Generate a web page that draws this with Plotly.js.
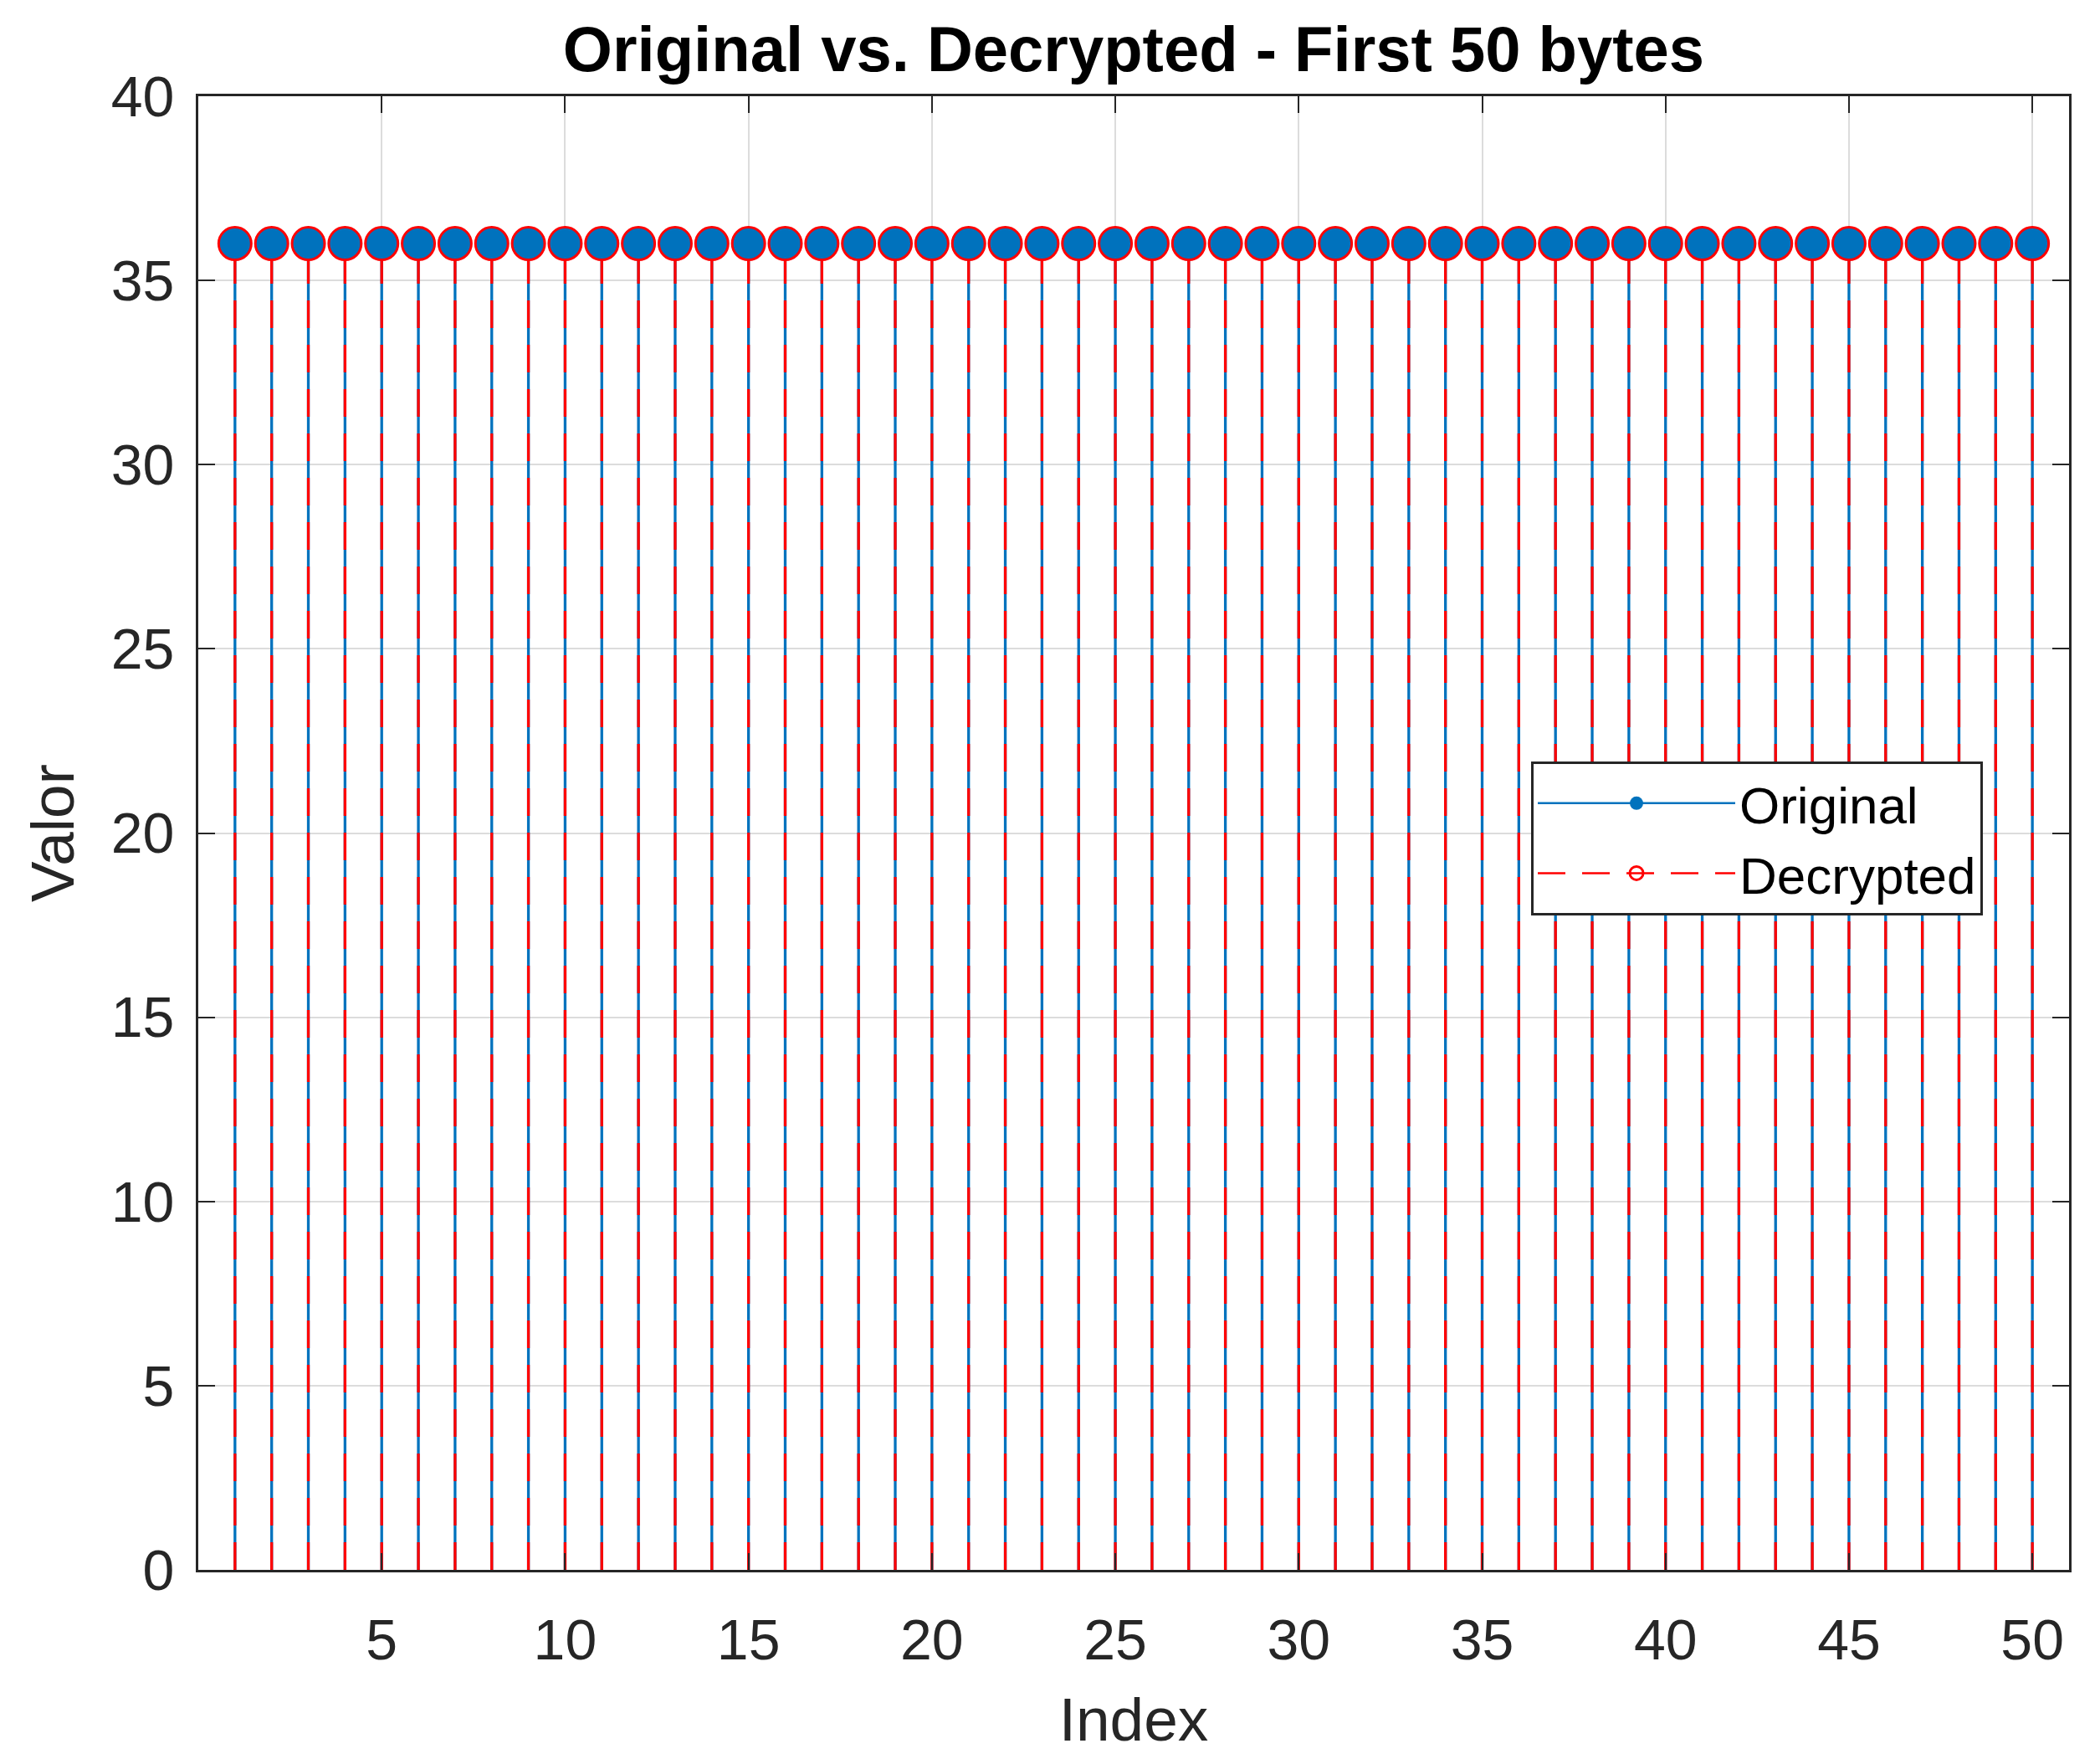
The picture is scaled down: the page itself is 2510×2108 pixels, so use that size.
<!DOCTYPE html>
<html>
<head>
<meta charset="utf-8">
<script src="https://cdn.plot.ly/plotly-3.0.1.min.js"></script>
<style>
  html, body { margin: 0; padding: 0; background: #fff; }
  #chart { width: 2510px; height: 2108px; }
</style>
</head>
<body>
<div id="chart"></div>
<script>
// Índices de los primeros 50 bytes
const indices = [1, 2, 3, 4, 5, 6, 7, 8, 9, 10,
  11, 12, 13, 14, 15, 16, 17, 18, 19, 20,
  21, 22, 23, 24, 25, 26, 27, 28, 29, 30,
  31, 32, 33, 34, 35, 36, 37, 38, 39, 40,
  41, 42, 43, 44, 45, 46, 47, 48, 49, 50];

// Valores originales y descifrados (todos iguales en la imagen)
const original = [36, 36, 36, 36, 36, 36, 36, 36, 36, 36,
  36, 36, 36, 36, 36, 36, 36, 36, 36, 36,
  36, 36, 36, 36, 36, 36, 36, 36, 36, 36,
  36, 36, 36, 36, 36, 36, 36, 36, 36, 36,
  36, 36, 36, 36, 36, 36, 36, 36, 36, 36];
const decrypted = [36, 36, 36, 36, 36, 36, 36, 36, 36, 36,
  36, 36, 36, 36, 36, 36, 36, 36, 36, 36,
  36, 36, 36, 36, 36, 36, 36, 36, 36, 36,
  36, 36, 36, 36, 36, 36, 36, 36, 36, 36,
  36, 36, 36, 36, 36, 36, 36, 36, 36, 36];

const xTicks = [5, 10, 15, 20, 25, 30, 35, 40, 45, 50];
const yTicks = [0, 5, 10, 15, 20, 25, 30, 35, 40];

const azul = "#0072BD";
const rojo = "#FF0000";
const ejeColor = "#262626";
const fuente = "Liberation Sans, Arial, Helvetica, sans-serif";

// Tallos tipo "stem": segmento de 0 al valor, separados por null
function tallos(xs, ys) {
  let sx = [], sy = [];
  xs.forEach((x, i) => {
    sx.push(x, x, null);
    sy.push(0, ys[i], null);
  });
  return { x: sx, y: sy };
}

// Cabezas: puntos aislados (null entre ellos para que no se unan)
function cabezas(xs, ys) {
  let cx = [], cy = [];
  xs.forEach((x, i) => {
    cx.push(x, x);
    cy.push(ys[i], null);
  });
  return { x: cx, y: cy };
}

const tOrig = tallos(indices, original);
const tDec = tallos(indices, decrypted);
const cOrig = cabezas(indices, original);
const cDec = cabezas(indices, decrypted);

var data = [
  {
    x: tOrig.x, y: tOrig.y, type: "scatter", mode: "lines",
    line: { color: azul, width: 3.3 }, showlegend: false, hoverinfo: "skip"
  },
  {
    x: tDec.x, y: tDec.y, type: "scatter", mode: "lines",
    line: { color: rojo, width: 3.3, dash: "33px,20px" }, showlegend: false, hoverinfo: "skip"
  },
  {
    x: cOrig.x, y: cOrig.y, type: "scatter", mode: "lines+markers", name: "Original",
    connectgaps: false,
    line: { color: azul, width: 2.5 },
    marker: { symbol: "circle", size: 40, color: azul, line: { width: 0 } }
  },
  {
    x: cDec.x, y: cDec.y, type: "scatter", mode: "lines+markers", name: "Decrypted",
    connectgaps: false,
    line: { color: rojo, width: 2.5, dash: "33px,20px" },
    marker: { symbol: "circle-open", size: 39, color: rojo, line: { width: 3, color: rojo } }
  }
];

var ejeComun = {
  showline: true,
  mirror: "ticks",
  linecolor: ejeColor,
  linewidth: 3,
  ticks: "inside",
  ticklen: 20,
  tickwidth: 2,
  tickcolor: ejeColor,
  showgrid: true,
  gridcolor: "#DCDCDC",
  gridwidth: 2,
  zeroline: false,
  tickfont: { family: fuente, size: 68, color: ejeColor }
};

var layout = {
  width: 2510,
  height: 2108,
  paper_bgcolor: "#fff",
  plot_bgcolor: "#fff",
  margin: { l: 237, r: 37, t: 115, b: 232 },
  title: {
    text: "<b>Original vs. Decrypted - First 50 bytes</b>",
    font: { family: fuente, size: 76, color: "#000" },
    xref: "paper", x: 0.5, xanchor: "center",
    yref: "container", y: 1 - 58 / 2108, yanchor: "middle"
  },
  xaxis: Object.assign({}, ejeComun, {
    range: [0, 51],
    tickmode: "array",
    tickvals: xTicks,
    ticklabelstandoff: 22,
    title: { text: "Index", font: { family: fuente, size: 73, color: ejeColor }, standoff: 34 }
  }),
  yaxis: Object.assign({}, ejeComun, {
    range: [0, 40],
    tickmode: "array",
    tickvals: yTicks,
    ticklabelstandoff: 12,
    title: { text: "Valor", font: { family: fuente, size: 73, color: ejeColor }, standoff: 21 }
  }),
  showlegend: true,
  legend: {
    x: (1830 - 237) / 2236,
    y: (1876 - 910) / 1761,
    xanchor: "left",
    yanchor: "top",
    bgcolor: "#fff",
    bordercolor: ejeColor,
    borderwidth: 3,
    itemwidth: 236,
    font: { family: fuente, size: 62, color: "#000" }
  }
};

Plotly.newPlot("chart", data, layout, { staticPlot: true });
</script>
</body>
</html>
